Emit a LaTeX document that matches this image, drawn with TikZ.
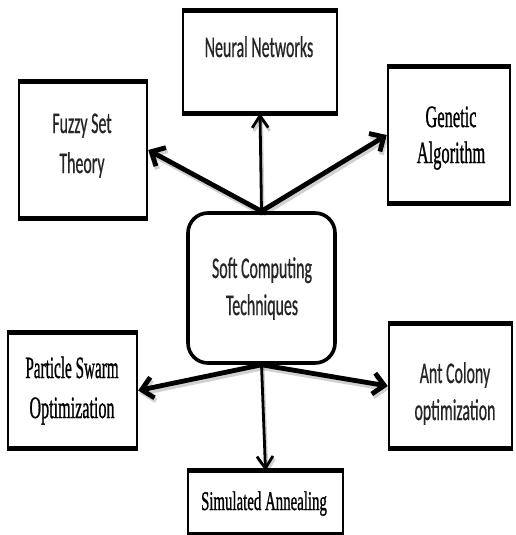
\documentclass[tikz,border=0pt]{standalone}
\usepackage{graphicx}
\usepackage{fontspec}
\usetikzlibrary{arrows.meta}
% text faces, slightly emboldened to keep the condensed strokes dark
\newfontfamily\calib[FakeBold=0.9]{Carlito}
\newfontfamily\camb[FakeBold=1.3]{Liberation Serif}
% horizontally condensed text
\newcommand\sqz[2][0.53]{\scalebox{#1}[1]{#2}}

\tikzset{
  box/.style={draw, line width=2.4pt, inner sep=0pt},
  capbar/.style={line width=5pt, line cap=square},
  sans/.style={anchor=base, inner sep=0pt, text=black!85, font=\calib\fontsize{30}{36}\selectfont},
  serif/.style={anchor=base, inner sep=0pt, font=\camb\fontsize{31}{36}\selectfont},
  shade/.style={preaction={draw=black, opacity=0.18, line width=#1,
      transform canvas={shift={(1.5pt,-3pt)}}}},
  fat/.style={shade=5pt, line width=4.8pt, -{Straight Barb[length=11pt,width=21pt]}},
  thin/.style={shade=3pt, line width=2.8pt, -{Straight Barb[length=12pt,width=16pt]}},
}

\begin{document}
\begin{tikzpicture}[x=1pt, y=-1pt]
  \fill[white] (0,0) rectangle (515,535);
  \useasboundingbox (0,0) rectangle (515,535);

  % boxes
  \node[box, minimum width=154pt, minimum height=100pt] (nn) at (260,62) {};
  \node[box, minimum width=128pt, minimum height=134pt] (fz) at (83,150) {};
  \node[box, minimum width=122pt, minimum height=134pt] (ga) at (449,135) {};
  \node[box, minimum width=129pt, minimum height=113pt] (ps) at (72.5,390.5) {};
  \node[box, minimum width=123pt, minimum height=122pt] (ac) at (450.5,386) {};
  \node[box, minimum width=155pt, minimum height=61pt] (sa) at (265.5,502.5) {};
  \node[draw, line width=3.6pt, rounded corners=20pt, inner sep=0pt,
        minimum width=147pt, minimum height=150pt] (sc) at (261.5,288) {};

  % heavier top and bottom edges of the rectangles
  \foreach \b in {nn,fz,ga,ps,ac,sa}{
    \draw[capbar] (\b.north west) -- (\b.north east);
    \draw[capbar] (\b.south west) -- (\b.south east);
  }

  % labels
  \node[sans] (nnA) at (259,57) {\sqz{Neural Networks}};
  \node[sans] (fzA) at (82,133) {\sqz{Fuzzy Set}};
  \node[sans] (fzB) at (82,173) {\sqz{Theory}};
  \node[serif] (gaA) at (451,127) {\sqz[0.53]{Genetic}};
  \node[serif] (gaB) at (451,163) {\sqz[0.53]{Algorithm}};
  \node[sans] (scA) at (262,278) {\sqz{Soft Computing}};
  \node[sans] (scB) at (262,315) {\sqz{Techniques}};
  \node[serif] (psA) at (72,378) {\sqz[0.49]{Particle Swarm}};
  \node[serif] (psB) at (72,418) {\sqz[0.52]{Optimization}};
  \node[sans] (acA) at (455,383) {\sqz{Ant Colony}};
  \node[sans] (acB) at (455,420) {\sqz{optimization}};
  \node[serif, font=\camb\fontsize{27}{32}\selectfont] (saA) at (264,510) {\sqz[0.55]{Simulated Annealing}};

  % connectors
  \draw[thin] (sc.north) -- (nn.south);
  \draw[fat] (sc.north) -- (fz.east);
  \draw[fat] (sc.north) -- (ga.west);
  \draw[fat] (sc.south) -- (ps.east);
  \draw[fat] (sc.south) -- (ac.west);
  \draw[thin] (sc.south) -- (sa.north);
\end{tikzpicture}
\end{document}
